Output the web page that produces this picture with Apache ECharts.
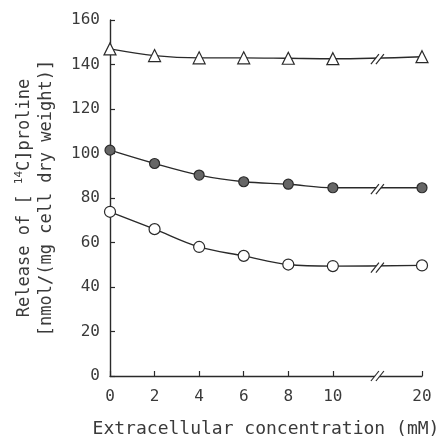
<!DOCTYPE html>
<html>
<head>
<meta charset="utf-8">
<script src="https://cdn.jsdelivr.net/npm/echarts@6/dist/echarts.min.js"></script>
<style>
	html, body { margin: 0; padding: 0; background: #fff; }
	#chart01 { width: 444px; height: 438px; }
</style>
</head>
<body>
<div id="chart01"></div>
<script>
// 농도 (mM)
const concList = [0, 2, 4, 6, 8, 10, 20];
// 삼각형(열린)
const triangleList = [147, 144, 143, 143, 142.8, 142.6, 143.5];
// 원(채워진)
const filledList = [101.5, 95.5, 90.3, 87.3, 86.2, 84.6, 84.6];
// 원(열린)
const openList = [73.8, 66, 58, 54, 50.1, 49.4, 49.7];
// 축 눈금
const xTickList = [0, 2, 4, 6, 8, 10, 20];
const yTickList = [0, 20, 40, 60, 80, 100, 120, 140, 160];

// 축 끊김(10 ~ 20) : 20 은 14 위치에 그린다
const BREAK_POS = 12;
const toPos = (x) => x <= 10 ? x : 14;
const toLabel = (p) => p === 14 ? '20' : String(p);

const textColor = '#3a3a3a';
const lineColor = '#2a2a2a';
const mono = 'DejaVu Sans Mono';

const makeData = (vals) => concList.map((c, i) => [toPos(c), vals[i]]);

// 끊김 표시 위치(마지막 두 점 사이)
const breakData = [
	[BREAK_POS, 0],
	[BREAK_POS, (triangleList[5] + triangleList[6]) / 2 - 0.6],
	[BREAK_POS, (filledList[5] + filledList[6]) / 2 - 0.6],
	[BREAK_POS, (openList[5] + openList[6]) / 2 - 0.8],
];

const renderBreak = function(params, api) {
	const p = api.coord([api.value(0), api.value(1)]);
	const dx = 4, dy = 5, gap = 2.5;
	return {
		type: 'group',
		children: [
			{
				type: 'polygon',
				shape: { points: [[p[0] - gap - dx, p[1] + dy], [p[0] - gap + dx, p[1] - dy], [p[0] + gap + dx, p[1] - dy], [p[0] + gap - dx, p[1] + dy]] },
				style: { fill: '#fff' }
			},
			{
				type: 'line',
				shape: { x1: p[0] - gap - dx, y1: p[1] + dy, x2: p[0] - gap + dx, y2: p[1] - dy },
				style: { stroke: lineColor, lineWidth: 1.2 }
			},
			{
				type: 'line',
				shape: { x1: p[0] + gap - dx, y1: p[1] + dy, x2: p[0] + gap + dx, y2: p[1] - dy },
				style: { stroke: lineColor, lineWidth: 1.2 }
			}
		]
	};
};

const lineSeries = (name, vals, symbol, size, fill) => ({
	name: name,
	type: 'line',
	data: makeData(vals),
	smooth: 0.35,
	symbol: symbol,
	symbolSize: size,
	showAllSymbol: true,
	lineStyle: { color: lineColor, width: 1.4 },
	itemStyle: { color: fill, borderColor: lineColor, borderWidth: 1.2 },
	z: 3,
});

const option = {
	animation: false,
	grid: { left: 110, right: 22, top: 20, bottom: 62, outerBoundsMode: 'none' },
	// y축 제목(2줄, 세로)
	graphic: [
		{
			type: 'text',
			x: 36,
			y: 198,
			rotation: Math.PI / 2,
			style: {
				text: '{a|Release of [ }{s|14}{a|C]proline}\n{a|[nmol/(mg cell dry weight)]}',
				align: 'center',
				verticalAlign: 'middle',
				fill: textColor,
				rich: {
					a: { fontFamily: mono, fontSize: 17, fill: textColor, lineHeight: 22 },
					s: { fontFamily: mono, fontSize: 11, fill: textColor, verticalAlign: 'top', lineHeight: 22, padding: [0, 0, 8, 0] },
				}
			}
		}
	],
	xAxis: {
		type: 'value',
		min: 0,
		max: 14,
		name: 'Extracellular concentration (mM)',
		nameLocation: 'middle',
		nameGap: 44,
		nameTextStyle: { fontFamily: mono, fontSize: 18, color: textColor },
		axisLine: { lineStyle: { color: lineColor, width: 1.4 } },
		axisTick: { show: true, inside: true, length: 5, lineStyle: { color: lineColor, width: 1.2 }, customValues: xTickList.map(toPos) },
		axisLabel: { margin: 13, fontFamily: mono, fontSize: 16, color: textColor, customValues: xTickList.map(toPos), formatter: (v) => toLabel(v) },
		splitLine: { show: false },
	},
	yAxis: {
		type: 'value',
		min: 0,
		max: 160,
		interval: 20,
		axisLine: { show: true, lineStyle: { color: lineColor, width: 1.4 } },
		axisTick: { show: true, inside: true, length: 5, lineStyle: { color: lineColor, width: 1.2 } },
		axisLabel: { margin: 10, fontFamily: mono, fontSize: 16, color: textColor },
		splitLine: { show: false },
	},
	series: [
		lineSeries('triangle', triangleList, 'triangle', 12, '#fff'),
		lineSeries('filled', filledList, 'circle', 10, '#666'),
		lineSeries('open', openList, 'circle', 11, '#fff'),
		{
			type: 'custom',
			renderItem: renderBreak,
			data: breakData,
			clip: false,
			z: 5,
		}
	]
};

const myChart = echarts.init(document.getElementById('chart01'), null, { renderer: 'canvas' });
myChart.setOption(option);
window.addEventListener('resize', myChart.resize);
</script>
</body>
</html>
